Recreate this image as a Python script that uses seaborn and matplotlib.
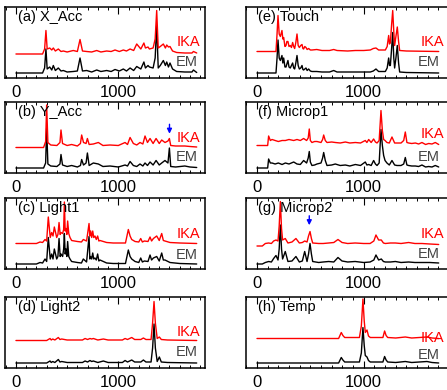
import numpy as np
import matplotlib
matplotlib.use("Agg")
import matplotlib.pyplot as plt
from matplotlib.ticker import MultipleLocator
import seaborn as sns

sns.set_theme(style="ticks")
plt.rcParams["font.family"] = ["Liberation Sans", "DejaVu Sans"]

# ── values (x = sample index, y = normalised amplitude) ──
xacc_x = [0, 260, 280, 293, 305, 330, 350, 365, 385, 414, 440, 463, 500, 560, 600, 626, 650, 691, 740, 789,
          830, 886, 930, 968, 1010, 1049, 1080, 1115, 1150, 1180, 1220, 1250, 1265, 1290, 1304, 1340, 1360,
          1375, 1390, 1410, 1440, 1460, 1473, 1490, 1505, 1530, 1570, 1650, 1720, 1734, 1766]
xacc_em = [0, 0, 0.1, 0.48, 0.08, 0.12, 0.06, 0.15, 0.05, 0.1, 0.04, 0.05, 0.02, 0.03, 0.04, 0.3, 0.04, 0.05,
           0.02, 0.06, 0.03, 0.05, 0.03, 0.07, 0.04, 0.08, 0.04, 0.1, 0.05, 0.13, 0.08, 0.22, 0.1, 0.15, 0.12,
           0.1, 0.3, 0.95, 0.1, 0.15, 0.25, 0.15, 0.22, 0.12, 0.2, 0.08, 0.03, 0.02, 0.02, 0.06, 0.01]
xacc_ika = [0, 0, 0.1, 0.47, 0.1, 0.12, 0.08, 0.12, 0.06, 0.1, 0.05, 0.06, 0.04, 0.07, 0.05, 0.29, 0.06, 0.05,
            0.04, 0.07, 0.04, 0.06, 0.05, 0.08, 0.05, 0.08, 0.06, 0.1, 0.07, 0.2, 0.1, 0.22, 0.12, 0.14, 0.1,
            0.12, 0.3, 0.87, 0.12, 0.15, 0.2, 0.12, 0.18, 0.14, 0.15, 0.06, 0.03, 0.02, 0.02, 0.05, 0.02]

yacc_x = [0, 270, 290, 300, 312, 340, 400, 430, 440, 455, 500, 544, 600, 630, 642, 660, 685, 698, 715, 756,
          805, 850, 919, 1000, 1066, 1090, 1115, 1147, 1180, 1212, 1240, 1261, 1285, 1310, 1340, 1369, 1400,
          1424, 1456, 1485, 1499, 1512, 1560, 1650, 1700, 1766]
yacc_em = [0, 0, 0.1, 0.8, 0.08, 0.04, 0.03, 0.08, 0.27, 0.06, 0.03, 0.05, 0.02, 0.05, 0.17, 0.06, 0.1, 0.3,
           0.05, 0.1, 0.08, 0.03, 0.04, 0.02, 0.06, 0.04, 0.13, 0.05, 0.03, 0.08, 0.04, 0.1, 0.05, 0.12, 0.06,
           0.15, 0.06, 0.1, 0.15, 0.1, 0.4, 0.03, 0.02, 0.04, 0.02, 0.01]
yacc_ika = [0, 0, 0.12, 0.85, 0.1, 0.05, 0.04, 0.1, 0.35, 0.08, 0.04, 0.06, 0.03, 0.08, 0.25, 0.1, 0.08, 0.18,
            0.06, 0.07, 0.1, 0.04, 0.05, 0.04, 0.1, 0.06, 0.2, 0.08, 0.05, 0.1, 0.07, 0.23, 0.1, 0.18, 0.08,
            0.18, 0.08, 0.15, 0.1, 0.13, 0.18, 0.04, 0.03, 0.03, 0.02, 0.01]

light1_x = [0, 200, 235, 260, 284, 300, 316, 335, 349, 362, 375, 398, 410, 421, 432, 440, 456, 466, 473, 481,
            489, 497, 505, 516, 528, 544, 600, 640, 658, 690, 714, 722, 730, 740, 750, 760, 772, 785, 798, 810,
            821, 854, 886, 950, 1070, 1098, 1115, 1131, 1164, 1200, 1219, 1235, 1255, 1290, 1310, 1325, 1343,
            1375, 1400, 1424, 1440, 1456, 1505, 1600, 1766]
light1_em = [0, 0, 0.03, 0.02, 0.1, 0.05, 0.53, 0.1, 0.2, 0.1, 0.3, 0.1, 0.15, 0.51, 0.15, 0.2, 0.15, 0.3, 0.61,
             0.2, 0.3, 0.15, 0.45, 0.15, 0.1, 0.05, 0.03, 0.02, 0.1, 0.04, 0.55, 0.1, 0.15, 0.1, 0.22, 0.1, 0.12,
             0.08, 0.2, 0.06, 0.08, 0.05, 0.02, 0.01, 0.01, 0.28, 0.15, 0.1, 0.05, 0.03, 0.12, 0.04, 0.06, 0.05,
             0.18, 0.08, 0.12, 0.15, 0.06, 0.22, 0.08, 0.08, 0.03, 0.01, 0.0]
light1_ika = [0, 0, 0.03, 0.02, 0.08, 0.05, 0.53, 0.12, 0.22, 0.15, 0.33, 0.12, 0.18, 0.42, 0.18, 0.22, 0.2,
              0.28, 0.83, 0.25, 0.3, 0.18, 0.45, 0.2, 0.12, 0.06, 0.04, 0.03, 0.08, 0.05, 0.4, 0.15, 0.25, 0.12,
              0.25, 0.12, 0.15, 0.08, 0.15, 0.05, 0.06, 0.04, 0.02, 0.01, 0.01, 0.28, 0.15, 0.08, 0.04, 0.03,
              0.1, 0.03, 0.05, 0.04, 0.13, 0.05, 0.1, 0.15, 0.06, 0.2, 0.06, 0.05, 0.02, 0.01, 0.0]

light2_x = [0, 300, 333, 345, 359, 380, 414, 430, 447, 500, 650, 675, 700, 723, 740, 756, 800, 854, 900, 1040,
            1066, 1090, 1131, 1160, 1220, 1245, 1270, 1320, 1335, 1349, 1362, 1380, 1401, 1420, 1480, 1766]
light2_em = [0, 0, 0.04, 0.01, 0.03, 0.01, 0.07, 0.02, 0.03, 0.01, 0.01, 0.04, 0.02, 0.05, 0.03, 0.04, 0.01,
             0.04, 0.01, 0.01, 0.05, 0.02, 0.06, 0.02, 0.02, 0.06, 0.02, 0.02, 0.3, 0.78, 0.3, 0.03, 0.12,
             0.02, 0.01, 0.0]
light2_ika = [0, 0, 0.04, 0.01, 0.03, 0.01, 0.06, 0.02, 0.03, 0.01, 0.01, 0.04, 0.02, 0.04, 0.03, 0.04, 0.01,
              0.03, 0.01, 0.01, 0.04, 0.02, 0.06, 0.02, 0.02, 0.05, 0.02, 0.02, 0.35, 0.78, 0.35, 0.04, 0.07,
              0.02, 0.01, 0.0]

touch_x = [0, 178, 188, 197, 208, 219, 234, 242, 250, 262, 272, 280, 290, 300, 312, 323, 334, 344, 353, 364,
           375, 386, 397, 410, 422, 430, 437, 448, 459, 470, 484, 500, 515, 560, 609, 680, 719, 750, 850, 922,
           1000, 1062, 1090, 1115, 1140, 1203, 1220, 1234, 1242, 1250, 1262, 1272, 1282, 1290, 1302, 1315,
           1327, 1337, 1400, 1703]
touch_em = [0, 0, 0.3, 0.66, 0.3, 0.25, 0.35, 0.2, 0.3, 0.12, 0.12, 0.18, 0.25, 0.12, 0.1, 0.15, 0.2, 0.1,
            0.08, 0.2, 0.35, 0.15, 0.08, 0.1, 0.15, 0.07, 0.06, 0.08, 0.1, 0.05, 0.08, 0.04, 0.03, 0.03, 0.02,
            0.02, 0.05, 0.02, 0.02, 0.02, 0.02, 0.02, 0.04, 0.08, 0.03, 0.03, 0.1, 0.3, 0.15, 0.15, 0.5, 0.81,
            0.3, 0.1, 0.3, 0.55, 0.2, 0.02, 0.01, 0.0]
touch_ika = [0, 0, 0.35, 0.72, 0.35, 0.3, 0.42, 0.25, 0.28, 0.1, 0.12, 0.2, 0.2, 0.1, 0.12, 0.08, 0.18, 0.1,
             0.06, 0.18, 0.35, 0.12, 0.08, 0.12, 0.14, 0.06, 0.05, 0.1, 0.08, 0.04, 0.06, 0.03, 0.03, 0.04,
             0.02, 0.02, 0.04, 0.02, 0.01, 0.02, 0.02, 0.03, 0.06, 0.07, 0.03, 0.03, 0.1, 0.32, 0.15, 0.18,
             0.55, 0.82, 0.4, 0.12, 0.3, 0.49, 0.2, 0.02, 0.01, 0.0]

microp1_x = [0, 100, 109, 125, 141, 170, 200, 235, 266, 300, 344, 375, 406, 437, 465, 480, 490, 500, 515, 540,
             562, 600, 615, 625, 640, 656, 700, 734, 780, 828, 870, 922, 970, 1015, 1030, 1047, 1070, 1093,
             1110, 1125, 1145, 1162, 1175, 1187, 1200, 1218, 1240, 1265, 1290, 1312, 1350, 1375, 1390, 1405,
             1421, 1450, 1484, 1515, 1546, 1580, 1609, 1640, 1671, 1703]
microp1_em = [0, 0, 0.18, 0.1, 0.1, 0.08, 0.1, 0.07, 0.1, 0.08, 0.12, 0.08, 0.07, 0.15, 0.1, 0.2, 0.33, 0.12,
              0.05, 0.06, 0.08, 0.1, 0.2, 0.31, 0.15, 0.05, 0.06, 0.08, 0.05, 0.06, 0.04, 0.07, 0.05, 0.12,
              0.06, 0.07, 0.05, 0.15, 0.08, 0.05, 0.1, 0.77, 0.45, 0.25, 0.15, 0.1, 0.06, 0.15, 0.06, 0.05,
              0.05, 0.08, 0.21, 0.06, 0.05, 0.04, 0.04, 0.03, 0.06, 0.02, 0.03, 0.02, 0.05, 0.02]
microp1_ika = [0, 0, 0.19, 0.1, 0.12, 0.1, 0.08, 0.1, 0.1, 0.12, 0.1, 0.12, 0.1, 0.14, 0.1, 0.15, 0.33, 0.1,
               0.06, 0.08, 0.08, 0.06, 0.12, 0.21, 0.1, 0.06, 0.07, 0.06, 0.05, 0.07, 0.05, 0.06, 0.05, 0.1,
               0.06, 0.12, 0.06, 0.13, 0.07, 0.05, 0.1, 0.7, 0.3, 0.12, 0.1, 0.06, 0.05, 0.17, 0.05, 0.05,
               0.05, 0.1, 0.27, 0.06, 0.05, 0.04, 0.05, 0.03, 0.06, 0.02, 0.04, 0.03, 0.06, 0.02]

microp2_x = [0, 50, 78, 109, 135, 156, 178, 197, 208, 219, 230, 240, 265, 290, 328, 365, 397, 425, 447, 469,
             483, 497, 510, 522, 578, 620, 672, 720, 759, 797, 850, 920, 1000, 1060, 1095, 1115, 1140, 1165,
             1185, 1203, 1250, 1297, 1350, 1421, 1480, 1546, 1620, 1703]
microp2_em = [0, 0, 0.03, 0.05, 0.04, 0.11, 0.17, 0.08, 0.3, 0.78, 0.3, 0.1, 0.25, 0.05, 0.06, 0.15, 0.04,
              0.06, 0.25, 0.05, 0.2, 0.41, 0.2, 0.05, 0.03, 0.04, 0.05, 0.04, 0.13, 0.06, 0.04, 0.05, 0.03,
              0.04, 0.08, 0.18, 0.08, 0.1, 0.05, 0.04, 0.04, 0.05, 0.03, 0.04, 0.03, 0.03, 0.03, 0.02]
microp2_ika = [0, 0, 0.05, 0.06, 0.05, 0.1, 0.12, 0.1, 0.4, 0.89, 0.35, 0.12, 0.15, 0.06, 0.08, 0.15, 0.06,
               0.07, 0.1, 0.08, 0.2, 0.29, 0.15, 0.06, 0.05, 0.05, 0.06, 0.07, 0.13, 0.07, 0.05, 0.06, 0.05,
               0.05, 0.1, 0.22, 0.12, 0.12, 0.06, 0.05, 0.06, 0.06, 0.05, 0.07, 0.05, 0.05, 0.04, 0.03]

temp_x = [0, 765, 790, 805, 822, 960, 978, 993, 1005, 1015, 1031, 1045, 1062, 1180, 1196, 1210, 1225, 1300,
          1390, 1450, 1593, 1640, 1703]
temp_em = [0, 0, 0.11, 0.06, 0.02, 0.02, 0.2, 0.71, 0.35, 0.15, 0.12, 0.05, 0.02, 0.02, 0.13, 0.06, 0.02,
           0.01, 0.03, 0.01, 0.03, 0.01, 0.0]
temp_ika = [0, 0, 0.12, 0.06, 0.02, 0.02, 0.25, 0.79, 0.35, 0.12, 0.17, 0.05, 0.02, 0.02, 0.15, 0.06, 0.02,
            0.01, 0.03, 0.01, 0.03, 0.01, 0.0]

titles = ["(a) X_Acc", "(b) Y_Acc", "(c) Light1", "(d) Light2",
          "(e) Touch", "(f) Microp1", "(g) Microp2", "(h) Temp"]
series = [(xacc_x, xacc_em, xacc_ika), (yacc_x, yacc_em, yacc_ika),
          (light1_x, light1_em, light1_ika), (light2_x, light2_em, light2_ika),
          (touch_x, touch_em, touch_ika), (microp1_x, microp1_em, microp1_ika),
          (microp2_x, microp2_em, microp2_ika), (temp_x, temp_em, temp_ika)]
arrows = {1: 1500, 6: 490}   # panel index -> x of the blue marker

# ── layout / styling (vertical offset of IKA trace, label heights) ───────────
offsets = [0.38, 0.41, 0.41, 0.45, 0.43, 0.45, 0.36, 0.49]
ika_ypos = [0.51, 0.49, 0.49, 0.51, 0.51, 0.55, 0.49, 0.42]
em_ypos = [0.23, 0.22, 0.20, 0.23, 0.23, 0.22, 0.21, 0.18]
arrow_tip = {1: 0.22, 6: 0.36}

W, H = 447, 390
fig = plt.figure(figsize=(W / 100, H / 100), dpi=100)
col_left = [5 / W, 246 / W]
col_w = [200 / W, 208.6 / W]
col_xlim = [(-107, 1847), (-103, 1852)]
col_title_x = [0.065, 0.058]
col_ika_x = [0.975, 0.949]
col_em_x = [0.965, 0.93]
row_top = [7, 102, 198, 297]
row_h = 71

for i, (title, (x, em, ika)) in enumerate(zip(titles, series)):
    col, row = divmod(i, 4)
    ax = fig.add_axes([col_left[col], 1 - (row_top[row] + row_h) / H, col_w[col], row_h / H])
    off = offsets[i]
    sns.lineplot(x=x, y=em, ax=ax, color="black", linewidth=1.0, estimator=None, sort=False)
    sns.lineplot(x=x, y=np.array(ika) + off, ax=ax, color="red", linewidth=1.0,
                 estimator=None, sort=False)
    ax.set_xlim(*col_xlim[col])
    ax.set_ylim(-0.1, 1.32)
    ax.set_yticks([])
    ax.set_xticks([0, 1000])
    ax.xaxis.set_minor_locator(MultipleLocator(100))
    ax.tick_params(axis="x", which="both", direction="in", top=True, bottom=True,
                   labelsize=12, pad=5, colors="black")
    ax.tick_params(axis="x", which="major", length=5, width=0.8)
    ax.tick_params(axis="x", which="minor", length=2.5, width=0.7)
    for sp in ax.spines.values():
        sp.set_linewidth(1.1)
        sp.set_color("black")
    ax.set_xlabel("")
    ax.set_ylabel("")

    ax.text(col_title_x[col], 0.86, title, transform=ax.transAxes, fontsize=10.5,
            ha="left", va="center", color="black")
    ax.text(col_ika_x[col], ika_ypos[i], "IKA", transform=ax.transAxes, fontsize=10.5,
            ha="right", va="center", color="red")
    ax.text(col_em_x[col], em_ypos[i], "EM", transform=ax.transAxes, fontsize=10.5,
            ha="right", va="center", color="#444444")

    if i in arrows:
        xa = arrows[i]
        tip = off + arrow_tip[i]
        ax.annotate("", xy=(xa, tip), xytext=(xa, tip + 0.3),
                    arrowprops=dict(arrowstyle="-|>", color="blue", lw=1, mutation_scale=7))

fig.savefig("out.png", dpi=100)
